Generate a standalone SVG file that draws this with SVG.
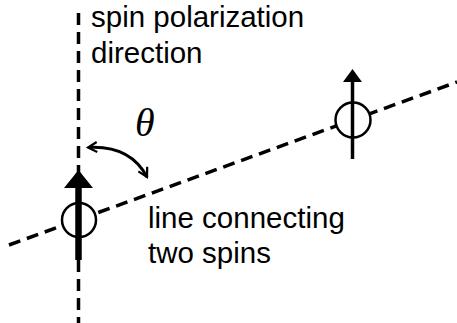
<svg xmlns="http://www.w3.org/2000/svg" width="457" height="323" viewBox="0 0 457 323">
<defs>
<style>
.dash{stroke:#000;stroke-width:3.5;stroke-dasharray:12 7;fill:none}
.lbl{font-family:"Liberation Sans",Arial,sans-serif;font-size:29.5px;fill:#000}
.ring{fill:#fff;stroke:#000;stroke-width:2.5}
</style>
<marker id="open" viewBox="0 0 12 12" refX="10" refY="6" markerWidth="12" markerHeight="12" markerUnits="userSpaceOnUse" orient="auto-start-reverse">
<path d="M1 1 L10 6 L1 11" fill="none" stroke="#000" stroke-width="2.2"/>
</marker>
</defs>
<rect width="457" height="323" fill="#fff"/>
<g id="connectors">
<line class="dash" x1="78.5" y1="13" x2="78.5" y2="323"/>
<line class="dash" x1="9" y1="245" x2="457" y2="82"/>
<path d="M88 147.5 Q130 145 147 177" fill="none" stroke="#000" stroke-width="3" marker-start="url(#open)" marker-end="url(#open)"/>
</g>
<g id="spin1">
<circle class="ring" cx="79" cy="220" r="17"/>
<line x1="78.5" y1="186" x2="78.5" y2="260" stroke="#000" stroke-width="6.5"/>
<polygon points="78.5,170 93,188 64,188" fill="#000"/>
</g>
<g id="spin2">
<circle class="ring" cx="353" cy="120" r="17.5"/>
<line x1="352.5" y1="80" x2="352.5" y2="159" stroke="#000" stroke-width="3.5"/>
<polygon points="352.5,69 362,82 343,82" fill="#000"/>
</g>
<g id="labels">
<text class="lbl" x="91" y="27">spin polarization</text>
<text class="lbl" x="91" y="63">direction</text>
<text class="lbl" x="148" y="228">line connecting</text>
<text class="lbl" x="148" y="263">two spins</text>
<text x="135" y="136" font-family="Liberation Serif,'Times New Roman',serif" font-style="italic" font-size="40">θ</text>
</g>
</svg>
